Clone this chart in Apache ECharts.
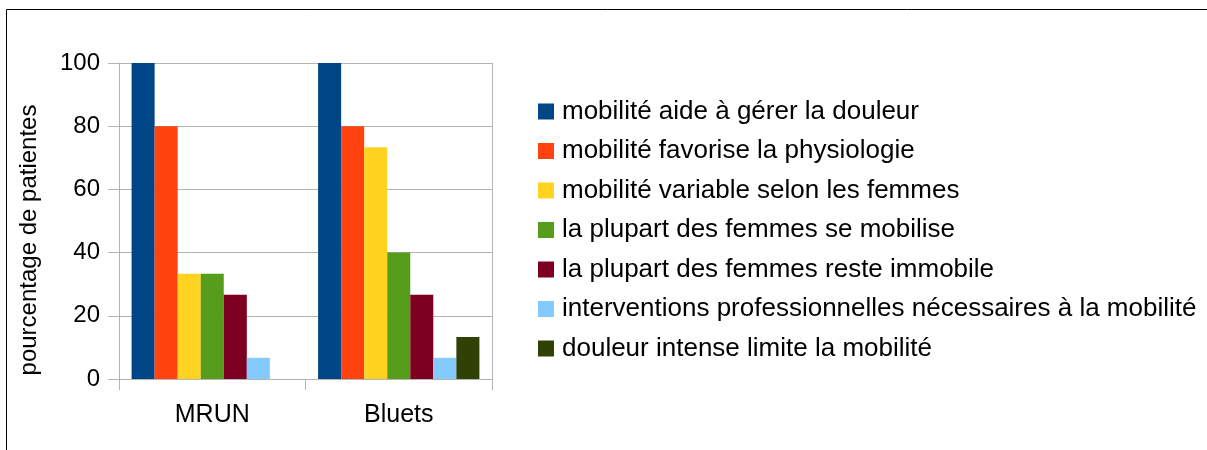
<!DOCTYPE html>
<html>
<head>
<meta charset="utf-8">
<script src="https://cdn.jsdelivr.net/npm/echarts@6/dist/echarts.min.js"></script>
<style>
  html, body { margin: 0; padding: 0; background: #fff; }
  #main { width: 1207px; height: 450px; }
</style>
</head>
<body>
<div id="main"></div>
<script>
var categories = ['MRUN', 'Bluets'];
var seriesNames = [
  'mobilité aide à gérer la douleur',
  'mobilité favorise la physiologie',
  'mobilité variable selon les femmes',
  'la plupart des femmes se mobilise',
  'la plupart des femmes reste immobile',
  'interventions professionnelles nécessaires à la mobilité',
  'douleur intense limite la mobilité'
];
var aideDouleur = [100, 100];
var favorisePhysio = [80, 80];
var variableFemmes = [33.3, 73.3];
var seMobilise = [33.3, 40];
var resteImmobile = [26.7, 26.7];
var interventionsPro = [6.7, 6.7];
var douleurIntense = [0, 13.3];
var colors = ['#004586', '#ff420e', '#ffd320', '#579d1c', '#7e0021', '#83caff', '#314004'];

var values = [aideDouleur, favorisePhysio, variableFemmes, seMobilise, resteImmobile, interventionsPro, douleurIntense];
var font = 'Liberation Sans, Arial, sans-serif';

var myChart = echarts.init(document.getElementById('main'));
var option = {
  animation: false,
  color: colors,
  graphic: [{
    type: 'rect',
    shape: { x: 6.5, y: 9.5, width: 1300, height: 500 },
    style: { fill: 'none', stroke: '#000', lineWidth: 1 },
    silent: true
  }, {
    // right border of the plot area
    type: 'line',
    shape: { x1: 492.5, y1: 63, x2: 492.5, y2: 390 },
    style: { stroke: '#b3b3b3', lineWidth: 1 },
    silent: true
  }],
  legend: {
    orient: 'vertical',
    left: 533,
    top: 92.5,
    icon: 'rect',
    itemWidth: 16,
    itemHeight: 16,
    itemGap: 11.5,
    data: seriesNames,
    textStyle: {
      fontFamily: font,
      fontSize: 26,
      color: '#000',
      lineHeight: 28,
      padding: [0, 0, 0, 3]
    }
  },
  grid: {
    left: 119,
    top: 63,
    width: 373,
    height: 316
  },
  xAxis: {
    type: 'category',
    data: categories,
    axisLine: { lineStyle: { color: '#b3b3b3', width: 1 } },
    axisTick: { show: true, length: 11, lineStyle: { color: '#b3b3b3' } },
    axisLabel: { fontFamily: font, fontSize: 25, color: '#000', margin: 24 },
    splitLine: { show: false }
  },
  yAxis: {
    type: 'value',
    min: 0,
    max: 100,
    interval: 20,
    name: 'pourcentage de patientes',
    nameLocation: 'middle',
    nameGap: 78,
    nameTextStyle: { fontFamily: font, fontSize: 24, color: '#000', padding: [0, 38, 0, 0] },
    axisLine: { show: true, lineStyle: { color: '#b3b3b3' } },
    axisTick: { show: true, length: 11, lineStyle: { color: '#b3b3b3' } },
    axisLabel: { fontFamily: font, fontSize: 24, color: '#000', margin: 19 },
    splitLine: { show: true, lineStyle: { color: '#b3b3b3', width: 1 } }
  },
  series: seriesNames.map(function (name, i) {
    return {
      name: name,
      type: 'bar',
      data: values[i],
      barGap: '0%',
      barCategoryGap: '13.5%',
      itemStyle: { color: colors[i] }
    };
  })
};
myChart.setOption(option);
</script>
</body>
</html>
